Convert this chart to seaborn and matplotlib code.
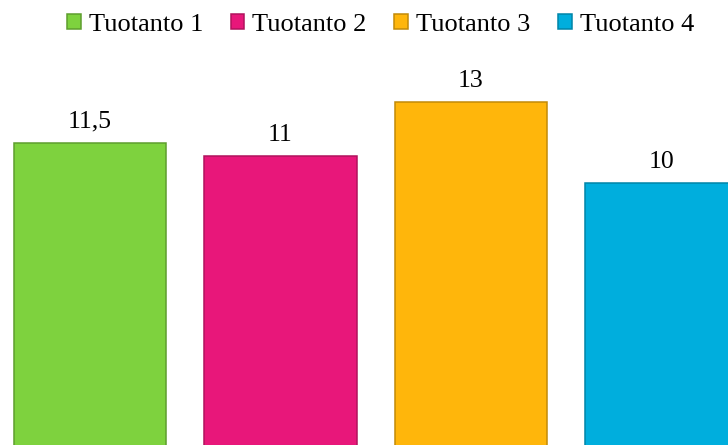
import matplotlib
matplotlib.use("Agg")
import matplotlib.pyplot as plt
from matplotlib.patches import Patch
import seaborn as sns
import pandas as pd

categories = ["Tuotanto 1", "Tuotanto 2", "Tuotanto 3", "Tuotanto 4"]
values = [11.5, 11, 13, 10]
colors = ["#7ED23E", "#E8177A", "#FFB60B", "#00AEDD"]
edges = ["#5E9E2E", "#B0125C", "#C28A08", "#0085A8"]

sns.set_theme(style="white")
plt.rcParams["font.family"] = ["Liberation Serif", "DejaVu Serif"]

W, H = 728, 445
fig = plt.figure(figsize=(W / 100, H / 100), dpi=100)
ax = fig.add_axes([0, -8 / H, 1, 453 / H])

df = pd.DataFrame({"cat": categories, "val": values})
sns.barplot(data=df, x="cat", y="val", hue="cat", palette=colors,
            width=0.8, legend=False, ax=ax, saturation=1)
for p, ec in zip(ax.patches, edges):
    p.set_edgecolor(ec)
    p.set_linewidth(1.1)

ax.set_xlim(-0.472, 3.349)
ax.set_ylim(0, 453 / 27)
ax.axis("off")

for c in ax.containers:
    labels = [("%g" % v).replace(".", ",") for v in c.datavalues]
    ax.bar_label(c, labels=labels, padding=7.5, fontsize=18.5, color="black")

handles = [Patch(facecolor=f, edgecolor=e, linewidth=1.1) for f, e in zip(colors, edges)]
fig.legend(handles, categories, loc="center", bbox_to_anchor=(380.5 / W, 1 - 25 / H),
           ncol=4, frameon=False, fontsize=19, handlelength=0.52, handleheight=0.52,
           handletextpad=0.3, columnspacing=1.05, borderpad=0, labelcolor="black")

fig.savefig("out.png", dpi=100)
